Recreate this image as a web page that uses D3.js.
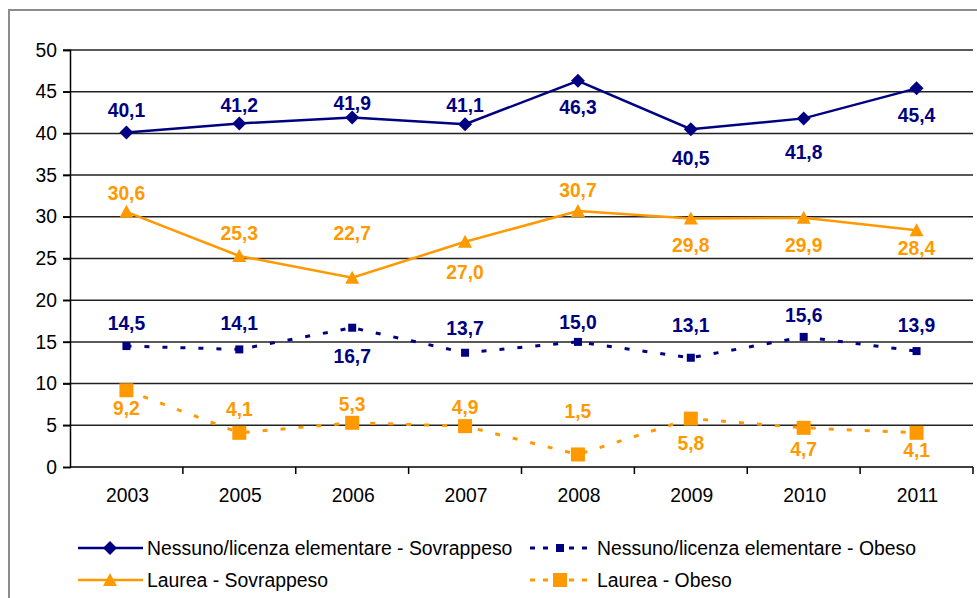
<!DOCTYPE html>
<html>
<head>
<meta charset="utf-8">
<script src="https://cdn.jsdelivr.net/npm/d3@7"></script>
<style>
  body { margin: 0; background: #fff; }
  svg text { font-family: "Liberation Sans", Arial, sans-serif; }
</style>
</head>
<body>
<div id="chart"></div>
<script>
// Dati del grafico
const years = ["2003", "2005", "2006", "2007", "2008", "2009", "2010", "2011"];
const nessunoSovrappeso = [40.1, 41.2, 41.9, 41.1, 46.3, 40.5, 41.8, 45.4];
const laureaSovrappeso = [30.6, 25.3, 22.7, 27.0, 30.7, 29.8, 29.9, 28.4];
const nessunoObeso = [14.5, 14.1, 16.7, 13.7, 15.0, 13.1, 15.6, 13.9];
const laureaObeso = [9.2, 4.1, 5.3, 4.9, 1.5, 5.8, 4.7, 4.1];
const yTicks = [0, 5, 10, 15, 20, 25, 30, 35, 40, 45, 50];

// posizione delle etichette (spostamento verticale in px rispetto al punto)
const dyNessunoSovr = [-23, -18, -15, -19, 26, 29, 34, 27];
const dyLaureaSovr = [-19, -23, -45, 30, -21, 27, 27, 18];
const dyNessunoOb = [-23, -26, 28, -25, -20, -33, -22, -26];
const dyLaureaOb = [18, -24, -19, -19, -43, 24, 21, 17];

const blu = "#000080", arancio = "#ff9900";

const series = [
  { name: "Nessuno/licenza elementare - Sovrappeso", values: nessunoSovrappeso, dy: dyNessunoSovr, color: blu, dash: null, marker: "diamond" },
  { name: "Laurea - Sovrappeso", values: laureaSovrappeso, dy: dyLaureaSovr, color: arancio, dash: null, marker: "triangle" },
  { name: "Nessuno/licenza elementare - Obeso", values: nessunoObeso, dy: dyNessunoOb, color: blu, dash: "5,13", marker: "smallsquare" },
  { name: "Laurea - Obeso", values: laureaObeso, dy: dyLaureaOb, color: arancio, dash: "5,13", marker: "square" }
];

const W = 977, H = 598;
const svg = d3.select("#chart").append("svg").attr("width", W).attr("height", H);

// bordo esterno
svg.append("rect").attr("x", 9).attr("y", 10).attr("width", 1000).attr("height", 700)
  .attr("fill", "none").attr("stroke", "#8c8c8c").attr("stroke-width", 2);

const x = d3.scaleBand().domain(years).range([70, 973]);
const y = d3.scaleLinear().domain([0, 50]).range([467, 50]);

// griglia
svg.append("g").selectAll("line").data(yTicks.filter(d => d > 0)).enter().append("line")
  .attr("x1", 63).attr("x2", 973)
  .attr("y1", d => y(d)).attr("y2", d => y(d))
  .attr("stroke", "#222").attr("stroke-width", 1.5);

// asse y
const yAxis = svg.append("g").attr("transform", "translate(70,0)")
  .call(d3.axisLeft(y).tickValues(yTicks).tickSize(7).tickPadding(6).tickFormat(d3.format("d")));
yAxis.select(".domain").attr("stroke", "#000").attr("stroke-width", 1.5);
yAxis.selectAll(".tick line").attr("stroke", "#000").attr("stroke-width", 1.5);
yAxis.selectAll("text").attr("font-size", 19.3).attr("fill", "#000")
  .attr("font-family", "Liberation Sans, Arial, sans-serif");

// asse x (tacche ai confini delle categorie)
svg.append("line").attr("x1", 70).attr("x2", 973).attr("y1", y(0)).attr("y2", y(0))
  .attr("stroke", "#000").attr("stroke-width", 1.5);
svg.append("g").selectAll("line").data(years).enter().append("line")
  .attr("x1", d => x(d) + x.bandwidth()).attr("x2", d => x(d) + x.bandwidth())
  .attr("y1", y(0)).attr("y2", y(0) + 7)
  .attr("stroke", "#000").attr("stroke-width", 1.5);
svg.append("g").selectAll("text").data(years).enter().append("text")
  .attr("x", d => x(d) + x.bandwidth() / 2 + 1).attr("y", y(0) + 35)
  .attr("text-anchor", "middle").attr("font-size", 19.3).attr("fill", "#000")
  .text(d => d);

const cx = (d, i) => x(years[i]) + x.bandwidth() / 2;

function drawMarker(g, type, color) {
  if (type === "diamond") {
    g.append("path").attr("d", "M0,-7L7,0L0,7L-7,0Z").attr("fill", color);
  } else if (type === "triangle") {
    g.append("path").attr("d", "M0,-7L7,6L-7,6Z").attr("fill", color);
  } else if (type === "smallsquare") {
    g.append("rect").attr("x", -4).attr("y", -4).attr("width", 8).attr("height", 8).attr("fill", color);
  } else {
    g.append("rect").attr("x", -7).attr("y", -7).attr("width", 14).attr("height", 14).attr("fill", color);
  }
}

const line = d3.line().x(cx).y(d => y(d));

series.forEach(s => {
  svg.append("path").datum(s.values)
    .attr("d", line)
    .attr("fill", "none")
    .attr("stroke", s.color)
    .attr("stroke-width", s.dash ? 3 : 2.5)
    .attr("stroke-dasharray", s.dash);

  s.values.forEach((v, i) => {
    const g = svg.append("g").attr("transform", `translate(${cx(v, i)},${y(v)})`);
    drawMarker(g, s.marker, s.color);
  });

  svg.append("g").selectAll("text").data(s.values).enter().append("text")
    .attr("x", cx)
    .attr("y", (d, i) => y(d) + s.dy[i])
    .attr("dy", "0.36em")
    .attr("text-anchor", "middle")
    .attr("font-size", 19.3).attr("font-weight", "bold")
    .attr("fill", s.color)
    .text(d => d3.format(".1f")(d).replace(".", ","));
});

// legenda
const legendPos = [[78, 548], [78, 580], [530, 548], [530, 580]];
series.forEach((s, i) => {
  const [lx, ly] = legendPos[i];
  const g = svg.append("g").attr("transform", `translate(${lx},${ly})`);
  if (s.dash) {
    g.append("line").attr("x1", 0).attr("x2", 60).attr("y1", 0).attr("y2", 0)
      .attr("stroke", s.color).attr("stroke-width", 3).attr("stroke-dasharray", "5,8");
  } else {
    g.append("line").attr("x1", 0).attr("x2", 65).attr("y1", 0).attr("y2", 0)
      .attr("stroke", s.color).attr("stroke-width", 2.5);
  }
  const m = g.append("g").attr("transform", `translate(${s.dash ? 30 : 32},0)`);
  drawMarker(m, s.marker, s.color);
  g.append("text").attr("x", s.dash ? 67 : 69).attr("y", 0).attr("dy", "0.36em")
    .attr("font-size", 19.4).attr("fill", "#000").text(s.name);
});
</script>
</body>
</html>
